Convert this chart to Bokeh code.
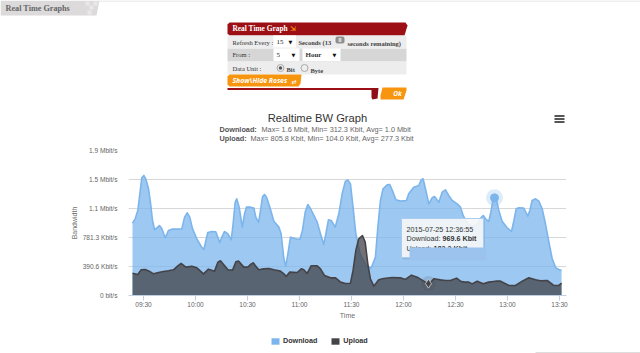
from bokeh.plotting import figure
from bokeh.layouts import column
from bokeh.models import Range1d, FixedTicker, Legend, LegendItem
from bokeh.core.properties import value
from bokeh.embed import file_html
from bokeh.resources import INLINE

# minutes after 09:00, Kbit/s
dl_t = [23.66,25.2,26.7,27.9,29.0,30.2,31.3,32.9,34.0,35.2,36.4,37.7,39.2,40.6,42.5,44.4,46.4,49.2,52.1,53.7,55.2,56.7,58.3,60.8,63.3,64.8,66.0,67.1,69.4,71.7,74.0,75.2,76.7,78.7,80.6,81.7,82.9,83.8,85.2,
        87.0,88.3,89.4,91.7,93.7,94.8,96.4,97.5,98.7,99.8,101,102.9,105.2,108.1,109.4,111,112.1,113.3,114.8,117.7,120.2,121.7,123.3,124.8,126.4,128.3,130.2,132.1,134.0,135.2,136.7,138.3,140.6,142.7,144.6,146.5,147.9,149.4,
        150.9,152.5,155,158.5,161.3,163.8,165.2,166.7,168.2,170.6,172.1,174,175.6,178.2,181.7,183,185.9,188.8,190.2,191.3,192.9,194.6,196.5,197.9,200.4,202.3,204.2,206.1,208.1,211,212.9,214.4,216.9,220,222.5,224.5,
        226,227.3,229.2,230.6,231.6,232.5,233.7,235,236.9,239.8,242.3,243.7,245,246.6,249.4,251.7,252.9,254.2,256.2,258.1,260,261.9,263.9,265.8,267.8,269.6,271.2]
dl_v = [975,1033,1145,1370,1585,1617,1572,1437,1257,1010,885,912,943,898,777,876,894,894,898,1055,1114,1055,898,764,660,620,741,849,862,858,714,786,862,831,750,966,1257,1302,1190,
        921,1100,1190,1190,1177,1055,984,1145,1334,1361,1325,1190,1001,921,831,494,395,561,786,764,755,876,1123,1226,1168,1078,988,831,687,831,1020,1010,921,1100,1370,1540,1558,1504,
        1190,831,560,400,368,517,921,1280,1437,1491,1495,1392,1289,1271,1280,1370,1459,1482,1558,1572,1415,1235,1316,1334,1257,1392,1424,1347,1280,1235,1190,1078,970,930,960,1040,
        1078,1033,997,1145,1302,1316,1280,1145,1001,912,862,1010,1168,1181,1177,1069,1145,1280,1302,1271,1168,966,719,494,373,350,337]
ul_t = [23.66,26.7,28.7,31,33.3,35.8,38.7,41.5,44.4,47.3,49.8,51.7,54.4,57.9,60.8,64.6,67.5,71,72.9,74.4,76.2,78.7,81.4,83.3,84.8,
        87.9,90.2,91.7,93.3,94.8,96.5,99.4,102.3,105.2,109.0,111,112.3,114.4,118.7,121,122.5,124.4,126.7,130.2,132.1,134.4,137.9,140.8,143.7,146.5,149.4,
        150.9,152.5,154.2,156.3,157.9,159.4,160.9,162.9,165.7,168.6,173.4,178.2,181.1,184.6,187.9,191.7,194.6,197.5,201.3,204.2,207.1,210.6,212.9,215.2,217.7,
        219.6,222.5,226,229.2,233.1,236,240.8,244.6,248.5,252.3,256.2,259,262.9,266.7,269.6,271.2]
ul_v = [301,283,346,350,328,292,310,324,333,346,400,431,382,395,373,292,355,328,449,467,418,346,342,454,463,
        382,382,418,440,395,346,359,364,346,328,292,256,315,310,359,346,297,400,400,359,270,238,238,180,162,166,
        337,606,764,808,719,427,225,126,211,229,243,238,216,274,247,193,148,225,211,202,202,234,193,180,180,
        157,193,157,180,193,193,135,135,193,238,211,198,202,135,135,166]

y_ticks = [0, 390.625, 781.25, 1171.875, 1562.5, 1953.125]
y_labels = ["0 bit/s", "390.6 Kbit/s", "781.3 Kbit/s", "1.1 Mbit/s", "1.5 Mbit/s", "1.9 Mbit/s"]
x_ticks = [30, 60, 90, 120, 150, 180, 210, 240, 270]
x_labels = ["09:30", "10:00", "10:30", "11:00", "11:30", "12:00", "12:30", "13:00", "13:30"]

SANS = value("Liberation Sans")
SERIF = value("Liberation Serif")
BLUE, DARK = "#7cb5ec", "#434348"

# ---------- top: page header, form, chart title ----------
top = figure(width=640, height=143, x_range=(0, 640), y_range=(143, 0), x_axis_type=None, y_axis_type=None,
             output_backend="svg", toolbar_location=None, min_border=0, frame_align=False)
top.outline_line_color = None
top.grid.visible = False

def txt(x, y, s, size=8, color="#333333", font=SERIF, style="normal", align="left"):
    top.text([x], [y], text=[s], text_font=font, text_font_size=f"{size}px", text_color=color,
             text_font_style=style, text_align=align, text_baseline="middle")

def poly(xs, ys, color):
    top.patch(xs, ys, fill_color=color, line_color=None)

def box(l, r, t, b, color, lc=None):
    top.quad(left=[l], right=[r], top=[t], bottom=[b], fill_color=color, line_color=lc)

poly([0, 99, 96, 0], [0, 0, 15, 15], "#dcdadb")
box(99, 640, 0, 1, "#dddddd")
for q in [(85, 89, 1, 5), (89, 93, 5, 9), (93, 97, 1, 5), (87, 91, 10, 14)]:
    box(q[0], q[1], q[2], q[3], "#e9e7e8")
txt(5, 7.5, "Real Time Graphs", 8.2, "#666666", style="bold")

poly([229, 405, 407, 404, 229, 227, 227], [22, 22, 25, 35, 35, 33, 24], "#9c1015")
txt(232, 28, "Real Time Graph", 7.4, "#ffffff", style="bold")
txt(289.5, 28, "\u21f2", 7, "#f7950f", font=value("DejaVu Sans"), style="bold")

box(227, 406, 35, 47.5, "#ededed")
box(227, 406, 48, 61, "#d6d6d6")
box(227, 406, 61.5, 74, "#ededed")

txt(232, 41.5, "Refresh Every :", 6.5)
box(273, 295.5, 35, 47, "#ffffff")
txt(276, 41.5, "15", 7, "#222222")
txt(288, 41, "\u25bc", 5, "#111111", font=value("DejaVu Sans"))
txt(298, 42, "Seconds (13", 6.5, "#444444", style="bold")
top.quad(left=[335], right=[344], top=[36], bottom=[43], fill_color="#8f8f8f", line_color=None,
         border_radius=2)
txt(338, 39.5, "II", 5, "#ffffff", font=SANS, style="bold")
txt(347, 42.5, "seconds remaining)", 6.5, "#444444", style="bold")

txt(232, 54, "From :", 6.5)
box(273, 299, 48, 60.5, "#ffffff")
box(302, 340, 48, 60.5, "#ffffff")
txt(276, 54, "5", 7, "#222222")
txt(291, 54, "\u25bc", 5, "#111111", font=value("DejaVu Sans"))
txt(305, 54, "Hour", 7, "#333333", style="bold")
txt(332, 54, "\u25bc", 5, "#111111", font=value("DejaVu Sans"))

txt(232, 67.5, "Data Unit :", 6.5)
top.scatter([280], [67.5], size=7, marker="circle", fill_color="#eeeeee", line_color="#aaaaaa")
top.scatter([280], [67.5], size=3.5, marker="circle", fill_color="#555555", line_color=None)
txt(286, 69, "Bit", 6.5, "#444444", style="bold")
top.scatter([304], [67.5], size=7, marker="circle", fill_color="#eeeeee", line_color="#aaaaaa")
txt(310, 69.5, "Byte", 6.5, "#444444", style="bold")

poly([229, 301, 300, 298, 229, 227, 227], [74, 74, 83, 86, 86, 84, 76], "#f7950f")
txt(232, 80, "Show\\Hide Roses", 6.8, "#ffffff", font=value("Open Sans"), style="bold italic")
txt(291, 80.5, "\u21c4", 6, "#ffffff", font=value("DejaVu Sans"), style="bold")

box(227, 372, 87.5, 89.5, "#9c1015")
poly([371, 378, 377, 372, 371], [87.5, 87.5, 98, 99, 97], "#8e0f14")
poly([382, 406, 406, 403, 380, 380], [87, 87, 90, 99, 99, 95], "#f7950f")
txt(397, 93, "Ok", 6.5, "#ffffff", font=value("Open Sans"), style="bold italic", align="center")

txt(317, 117, "Realtime BW Graph", 11.2, "#333333", font=SANS, align="center")
txt(219, 129, "Download:", 7.3, "#555555", font=SANS, style="bold")
txt(261, 129, "Max= 1.6 Mbit, Min= 312.3 Kbit, Avg= 1.0 Mbit", 7.3, "#666666", font=SANS)
txt(219, 138, "Upload:", 7.3, "#555555", font=SANS, style="bold")
txt(250, 138, "Max= 805.8 Kbit, Min= 104.0 Kbit, Avg= 277.3 Kbit", 7.3, "#666666", font=SANS)
for yy in (115.5, 118.5, 121.5):
    box(554, 564, yy - 1, yy + 1, "#555555")

# ---------- chart ----------
p = figure(width=640, height=187, x_range=Range1d(21.346, 274.04), y_range=Range1d(0, 1953.125),
           output_backend="svg", toolbar_location=None, frame_align=False,
           min_border_left=128, min_border_right=74, min_border_top=7, min_border_bottom=35)
p.outline_line_color = None
p.xgrid.visible = False
p.ygrid.grid_line_color = "#d8d8d8"
p.ygrid.ticker = FixedTicker(ticks=y_ticks)
p.yaxis.ticker = FixedTicker(ticks=y_ticks)
p.xaxis.ticker = FixedTicker(ticks=x_ticks)
p.yaxis.major_label_overrides = dict(zip(y_ticks, y_labels))
p.xaxis.major_label_overrides = dict(zip(x_ticks, x_labels))
p.yaxis.axis_line_color = None
p.yaxis.major_tick_line_color = None
p.yaxis.minor_tick_line_color = None
p.xaxis.minor_tick_line_color = None
p.xaxis.axis_line_color = "#c0d0e0"
p.xaxis.major_tick_line_color = "#c0d0e0"
p.xaxis.major_tick_in = 0
p.xaxis.major_tick_out = 5
for ax in (p.xaxis[0], p.yaxis[0]):
    ax.major_label_text_font = "Liberation Sans"
    ax.major_label_text_font_size = "6.6px"
    ax.major_label_text_color = "#666666"
    ax.axis_label_text_font = "Liberation Sans"
    ax.axis_label_text_font_size = "7px"
    ax.axis_label_text_font_style = "normal"
    ax.axis_label_text_color = "#707070"
p.xaxis.axis_label = "Time"
p.yaxis.axis_label = "Bandwidth"
p.xaxis.major_label_standoff = 0
p.yaxis.major_label_standoff = 5
p.xaxis.axis_label_standoff = 1
p.yaxis.axis_label_standoff = 2

p.varea(dl_t, [0] * len(dl_t), dl_v, fill_color=BLUE, fill_alpha=0.75)
p.line(dl_t, dl_v, line_color=BLUE, line_width=1.6, line_join="round")
p.varea(ul_t, [0] * len(ul_t), ul_v, fill_color=DARK, fill_alpha=0.75)
p.line(ul_t, ul_v, line_color=DARK, line_width=1.6, line_join="round")

# hover markers
p.scatter([232.5], [1316], size=17, marker="circle", fill_color=BLUE, fill_alpha=0.25, line_color=None)
p.scatter([232.5], [1316], size=8, marker="circle", fill_color=BLUE, line_color=BLUE)
p.scatter([194.4], [160], size=15, marker="circle", fill_color=DARK, fill_alpha=0.15, line_color=None)
p.scatter([194.4], [160], size=9, marker="diamond", fill_color=DARK, line_color="#d8d8d8", line_width=0.8)

# tooltip, in page pixels on a second pair of ranges
p.extra_x_ranges["px"] = Range1d(128, 566)
p.extra_y_ranges["px"] = Range1d(295, 150)
def ptxt(x, y, s, style="normal"):
    p.text([x], [y], text=[s], text_font=SANS, text_font_size="7.2px", text_color="#333333", text_font_style=style,
           text_baseline="middle", x_range_name="px", y_range_name="px")
p.quad(left=[402], right=[484.5], top=[219], bottom=[259], fill_color="#000000", fill_alpha=0.07, line_color=None,
       x_range_name="px", y_range_name="px")
p.quad(left=[401], right=[483], top=[218], bottom=[257], fill_color="#f6f7f9", fill_alpha=0.92, line_color="#a8cdf0",
       x_range_name="px", y_range_name="px")
ptxt(406, 228.5, "2015-07-25 12:36:55")
ptxt(406, 238, "Download:")
ptxt(442, 238, "969.6 Kbit", "bold")
ptxt(406, 247.5, "Upload:")
ptxt(433, 247.5, "182.2 Kbit", "bold")
p.quad(left=[409], right=[486], top=[247], bottom=[260], fill_color="#9cc3ee", line_color=None,
       x_range_name="px", y_range_name="px")

# ---------- legend strip ----------
low = figure(width=640, height=23, x_range=(0, 640), y_range=(353, 330), x_axis_type=None, y_axis_type=None,
             output_backend="svg", toolbar_location=None, min_border=0, frame_align=False)
low.outline_line_color = None
low.grid.visible = False
sw1 = low.quad(left=[-30], right=[-20], top=[0], bottom=[1], fill_color=BLUE, line_color=None)
sw2 = low.quad(left=[-30], right=[-20], top=[0], bottom=[1], fill_color=DARK, line_color=None)
legend = Legend(items=[LegendItem(label="Download", renderers=[sw1]), LegendItem(label="Upload", renderers=[sw2])],
                orientation="horizontal", location=(270, 8), border_line_color=None, background_fill_alpha=0,
                padding=0, margin=0, spacing=13, glyph_width=10, glyph_height=8, label_standoff=3,
                label_text_font="Liberation Sans", label_text_font_size="7.2px", label_text_font_style="bold",
                label_text_color="#333333")
low.add_layout(legend)
low.quad(left=[535], right=[640], top=[351.5], bottom=[353], fill_color="#dddddd", line_color=None)

page = column(top, p, low, spacing=0)
open("out.html", "w").write(file_html(page, INLINE))
